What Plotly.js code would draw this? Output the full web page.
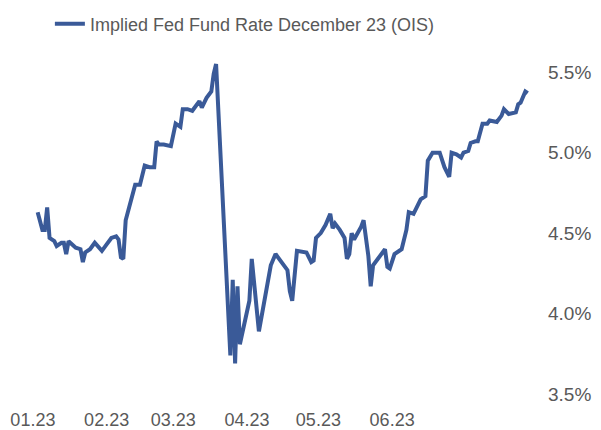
<!DOCTYPE html>
<html>
<head>
<meta charset="utf-8">
<script src="https://cdn.plot.ly/plotly-3.0.1.min.js"></script>
<style>
    html, body { margin: 0; padding: 0; background: #fff; }
    #chart { width: 601px; height: 430px; }
</style>
</head>
<body>
<div id="chart"></div>
<script>
const seriesName = 'Implied Fed Fund Rate December 23 (OIS)';

const dates = [
    '2023-01-03', '2023-01-05', '2023-01-06', '2023-01-07', '2023-01-08', '2023-01-10',
    '2023-01-11', '2023-01-13', '2023-01-14', '2023-01-15', '2023-01-16', '2023-01-18',
    '2023-01-19', '2023-01-21', '2023-01-22', '2023-01-23', '2023-01-25', '2023-01-27',
    '2023-01-30', '2023-02-01', '2023-02-03', '2023-02-05', '2023-02-06', '2023-02-07',
    '2023-02-08', '2023-02-09', '2023-02-10', '2023-02-12', '2023-02-13', '2023-02-15',
    '2023-02-16', '2023-02-17', '2023-02-19', '2023-02-21', '2023-02-22', '2023-02-23',
    '2023-02-25', '2023-02-28', '2023-03-02', '2023-03-03', '2023-03-04', '2023-03-05',
    '2023-03-07', '2023-03-09', '2023-03-12', '2023-03-13', '2023-03-15', '2023-03-17',
    '2023-03-18', '2023-03-19', '2023-03-25', '2023-03-26', '2023-03-27', '2023-03-28',
    '2023-03-29', '2023-04-02', '2023-04-03', '2023-04-06', '2023-04-11', '2023-04-13',
    '2023-04-18', '2023-04-19', '2023-04-20', '2023-04-22', '2023-04-26', '2023-04-28',
    '2023-04-29', '2023-04-30', '2023-05-02', '2023-05-04', '2023-05-06', '2023-05-07',
    '2023-05-08', '2023-05-10', '2023-05-12', '2023-05-13', '2023-05-14', '2023-05-15',
    '2023-05-16', '2023-05-19', '2023-05-20', '2023-05-22', '2023-05-23', '2023-05-24',
    '2023-05-27', '2023-05-29', '2023-05-30', '2023-05-31', '2023-06-02', '2023-06-05',
    '2023-06-07', '2023-06-08', '2023-06-10', '2023-06-13', '2023-06-15', '2023-06-16',
    '2023-06-18', '2023-06-21', '2023-06-23', '2023-06-25', '2023-06-26', '2023-06-28',
    '2023-06-30', '2023-07-01', '2023-07-03', '2023-07-04', '2023-07-06', '2023-07-07',
    '2023-07-09', '2023-07-11', '2023-07-12', '2023-07-15', '2023-07-17', '2023-07-18',
    '2023-07-20', '2023-07-23', '2023-07-24', '2023-07-25', '2023-07-27', '2023-07-28',
];

const rates = [
    4.63, 4.52, 4.52, 4.66, 4.47, 4.45,
    4.42, 4.44, 4.44, 4.37, 4.45, 4.42,
    4.41, 4.40, 4.32, 4.38, 4.40, 4.44,
    4.39, 4.43, 4.47, 4.48, 4.46, 4.35,
    4.34, 4.58, 4.64, 4.74, 4.80, 4.80,
    4.85, 4.92, 4.91, 4.91, 5.07, 5.05,
    5.05, 5.04, 5.18, 5.17, 5.16, 5.27,
    5.27, 5.26, 5.32, 5.28, 5.34, 5.38,
    5.49, 5.55, 3.74, 4.21, 3.69, 4.17,
    3.81, 4.08, 4.34, 3.89, 4.30, 4.37,
    4.27, 4.14, 4.08, 4.39, 4.38, 4.32,
    4.33, 4.47, 4.50, 4.55, 4.62, 4.53,
    4.56, 4.52, 4.47, 4.34, 4.37, 4.50,
    4.46, 4.54, 4.58, 4.36, 4.17, 4.30,
    4.36, 4.40, 4.29, 4.28, 4.37, 4.40,
    4.52, 4.63, 4.62, 4.71, 4.73, 4.95,
    5.00, 5.00, 4.91, 4.85, 5.00, 4.99,
    4.97, 5.00, 5.01, 5.06, 5.07, 5.07,
    5.18, 5.18, 5.20, 5.19, 5.23, 5.27,
    5.24, 5.25, 5.30, 5.31, 5.38, 5.37,
];

const monthTicks = ['2023-01-01', '2023-02-01', '2023-03-01', '2023-04-01', '2023-05-01', '2023-06-01'];
const monthLabels = ['01.23', '02.23', '03.23', '04.23', '05.23', '06.23'];

const lineColor = '#3a5a98';
const textColor = '#595959';
const fontFamily = '"Liberation Sans", Arial, Helvetica, sans-serif';

function buildTrace() {
    return {
        x: dates,
        y: rates,
        type: 'scatter',
        mode: 'lines',
        name: seriesName,
        line: { color: lineColor, width: 4 },
    };
}

function buildLayout() {
    return {
        width: 601,
        height: 430,
        margin: { l: 21, r: 59, t: 48, b: 23, pad: 0 },
        paper_bgcolor: '#ffffff',
        plot_bgcolor: '#ffffff',
        font: { family: fontFamily, size: 18, color: textColor },
        showlegend: true,
        // legend placed in container coords so it doesn't push the top margin
        legend: {
            orientation: 'h',
            xref: 'container',
            yref: 'container',
            x: 0.083,
            xanchor: 'left',
            y: 0.944,
            yanchor: 'middle',
            font: { family: fontFamily, size: 18, color: textColor },
            bgcolor: 'rgba(0,0,0,0)',
        },
        xaxis: {
            type: 'date',
            range: ['2022-12-27', '2023-08-03'],
            tickvals: monthTicks,
            ticktext: monthLabels,
            showgrid: false,
            zeroline: false,
            showline: false,
            ticks: '',
            automargin: false,
            tickfont: { family: fontFamily, size: 18, color: textColor },
        },
        yaxis: {
            side: 'right',
            range: [3.42, 5.65],
            tick0: 3.5,
            dtick: 0.5,
            tickformat: '.1f',
            ticksuffix: '%',
            ticklabelstandoff: 5,
            showgrid: false,
            zeroline: false,
            showline: false,
            ticks: '',
            automargin: false,
            tickfont: { family: fontFamily, size: 19, color: textColor },
        },
    };
}

Plotly.newPlot('chart', [buildTrace()], buildLayout(), { displayModeBar: false, staticPlot: true });
</script>
</body>
</html>
